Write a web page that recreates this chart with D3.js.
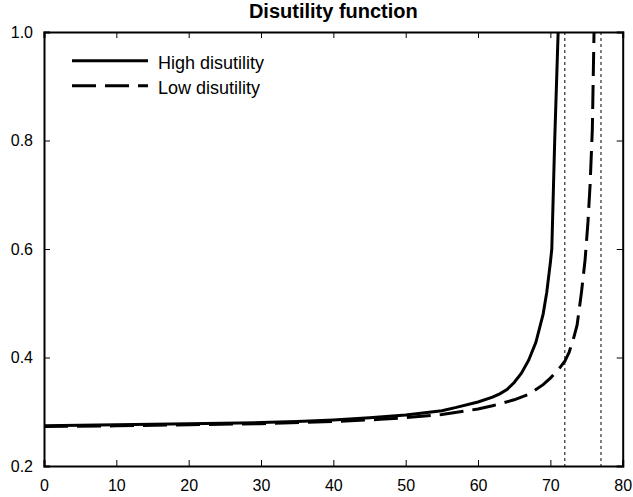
<!DOCTYPE html>
<html>
<head>
<meta charset="utf-8">
<script src="https://cdn.jsdelivr.net/npm/d3@7"></script>
<style>
  body { margin: 0; background: #fff; }
  svg { display: block; font-family: "Liberation Sans", Arial, sans-serif; }
</style>
</head>
<body>
<div id="chart"></div>
<script>
// values
const highX = [0, 10, 20, 30, 35, 40, 45, 50, 55, 57, 60, 62, 63, 64, 65, 66, 67, 68, 69, 69.5, 70, 70.2, 70.6, 71.1];
const highY = [0.274, 0.276, 0.278, 0.280, 0.282, 0.285, 0.289, 0.294, 0.302, 0.308, 0.318, 0.327, 0.333, 0.341, 0.354, 0.371, 0.395, 0.428, 0.48, 0.52, 0.575, 0.60, 0.80, 1.01];
const lowX = [0, 10, 20, 30, 40, 46.5, 50, 55, 60, 62, 65, 67, 69, 70, 71, 72, 72.6, 73.2, 73.7, 74.3, 74.8, 75.2, 75.5, 75.8, 76.05];
const lowY = [0.273, 0.274, 0.276, 0.278, 0.282, 0.286, 0.289, 0.295, 0.305, 0.311, 0.322, 0.332, 0.350, 0.362, 0.376, 0.393, 0.41, 0.435, 0.46, 0.52, 0.58, 0.65, 0.72, 0.82, 1.01];
const limits = [72, 77];
const xTicks = [0, 10, 20, 30, 40, 50, 60, 70, 80];
const yTicks = [0.2, 0.4, 0.6, 0.8, 1.0];
const seriesNames = ["High disutility", "Low disutility"];

const W = 633, H = 497, m = { t: 32, r: 10.3, b: 31, l: 44 };
const iw = W - m.l - m.r, ih = H - m.t - m.b;

const svg = d3.select("#chart").append("svg")
  .attr("width", W).attr("height", H);

const g = svg.append("g").attr("transform", `translate(${m.l},${m.t})`);

const x = d3.scaleLinear().domain([0, 80]).range([0, iw]);
const y = d3.scaleLinear().domain([0.2, 1.0]).range([ih, 0]);

svg.append("defs").append("clipPath").attr("id", "clip")
  .append("rect").attr("width", iw).attr("height", ih);

// dotted limit lines
g.selectAll("line.limit")
  .data(limits)
  .join("line")
  .attr("class", "limit")
  .attr("x1", d => x(d)).attr("x2", d => x(d))
  .attr("y1", 0).attr("y2", ih)
  .attr("stroke", "#000").attr("stroke-width", 1)
  .attr("stroke-dasharray", "3,3");

const lineGen = d3.line().x(d => x(d[0])).y(d => y(d[1]));
const high = highX.map((v, i) => [v, highY[i]]);
const low = lowX.map((v, i) => [v, lowY[i]]);

const curves = g.append("g").attr("clip-path", "url(#clip)");
curves.append("path").datum(high).attr("d", lineGen)
  .attr("fill", "none").attr("stroke", "#000").attr("stroke-width", 3);
curves.append("path").datum(low).attr("d", lineGen)
  .attr("fill", "none").attr("stroke", "#000").attr("stroke-width", 3)
  .attr("stroke-dasharray", "24,9");

// axes, matlab style: ticks inward on all sides
const tk = 6;
const axB = g.append("g").attr("transform", `translate(0,${ih})`)
  .call(d3.axisBottom(x).tickValues(xTicks).tickSize(-tk).tickPadding(tk + 8).tickFormat(d3.format("d")));
const axT = g.append("g")
  .call(d3.axisTop(x).tickValues(xTicks).tickSize(-tk).tickFormat(""));
const axL = g.append("g")
  .call(d3.axisLeft(y).tickValues(yTicks).tickSize(-tk).tickPadding(tk + 5).tickFormat(d3.format(".1f")));
const axR = g.append("g").attr("transform", `translate(${iw},0)`)
  .call(d3.axisRight(y).tickValues(yTicks).tickSize(-tk).tickFormat(""));

[axB, axT, axL, axR].forEach(a => {
  a.select(".domain").attr("stroke", "#000").attr("stroke-width", 2);
  a.selectAll(".tick line").attr("stroke", "#000").attr("stroke-width", 1);
  a.selectAll(".tick text").attr("fill", "#000").attr("font-size", 16)
    .attr("font-family", "Liberation Sans, Arial, sans-serif");
});
// drop end ticks that sit on the frame
[axB, axT].forEach(a => a.selectAll(".tick line").filter(d => d === 0 || d === 80).remove());
[axL, axR].forEach(a => a.selectAll(".tick line").filter(d => d === 0.2 || d === 1.0).remove());

// title
svg.append("text")
  .attr("x", m.l + iw / 2).attr("y", 18)
  .attr("text-anchor", "middle")
  .attr("font-size", 20).attr("font-weight", "bold")
  .text("Disutility function");

// legend
const leg = g.append("g").attr("transform", "translate(28,28.7)");
seriesNames.forEach((name, i) => {
  const row = leg.append("g").attr("transform", `translate(0,${i * 25})`);
  row.append("line").attr("x1", 0).attr("x2", 76).attr("y1", 0).attr("y2", 0)
    .attr("stroke", "#000").attr("stroke-width", 3)
    .attr("stroke-dasharray", i === 1 ? "24,9" : null);
  row.append("text").attr("x", 86).attr("y", 8.5)
    .attr("font-size", 18).text(name);
});
</script>
</body>
</html>
